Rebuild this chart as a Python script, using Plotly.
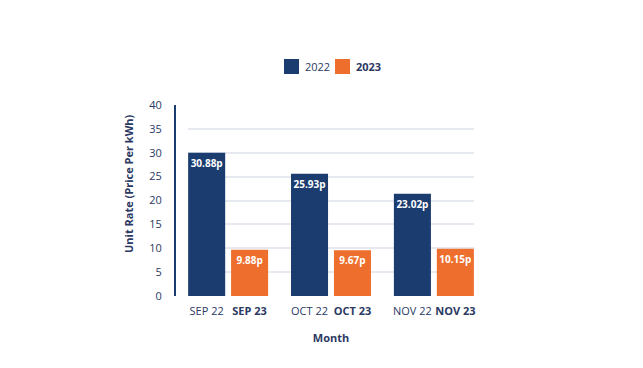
import plotly.graph_objects as go

# ---- data ----
months = ["SEP", "OCT", "NOV"]
years = ["2022", "2023"]
heights_2022 = [30.0, 25.6, 21.4]
heights_2023 = [9.7, 9.6, 9.9]
labels_2022 = ["30.88p", "25.93p", "23.02p"]
labels_2023 = ["9.88p", "9.67p", "10.15p"]
y_ticks = [0, 5, 10, 15, 20, 25, 30, 35, 40]

# ---- styling ----
NAVY = "#1b3c6e"
ORANGE = "#ee6f2d"
TEXT = "#2b3963"
GRID = "#e6eaf0"
FONT = "Open Sans"
OFF = 0.2087   # half slot within a month group
BAR_W = 0.36

W, H = 643, 368
ML, MR, MT, MB = 167, 177, 97, 80
PW, PH = W - ML - MR, H - MT - MB


def px_x(x):   # page pixel -> paper x
    return (x - 8 - ML) / PW


def px_y(y):   # page pixel -> paper y
    return 1 - (y - 7.5 - MT) / PH


idx = list(range(len(months)))
x22 = [i - OFF for i in idx]
x23 = [i + OFF for i in idx]
tickvals = []
ticktext = []
for i, m in enumerate(months):
    tickvals += [x22[i], x23[i]]
    ticktext += [f"{m} 22", f"<b>{m} 23</b>"]

fig = go.Figure()
for xs, ys, labs, col, nm in [(x22, heights_2022, labels_2022, NAVY, years[0]),
                              (x23, heights_2023, labels_2023, ORANGE, years[1])]:
    fig.add_trace(go.Bar(
        x=xs, y=ys, width=BAR_W, text=labs, name=nm,
        textposition="inside", insidetextanchor="end", textangle=0,
        constraintext="none",
        textfont=dict(family=FONT, size=10, color="white", weight="bold"),
        marker=dict(color=col, line=dict(width=0)),
        showlegend=False, hoverinfo="skip",
    ))

# legend (drawn as swatches + labels to match the reference spacing)
shapes = []
annotations = []
for (sx, tx, label, col) in [(284, 303.3, years[0], NAVY),
                             (335, 354.3, f"<b>{years[1]}</b>", ORANGE)]:
    shapes.append(dict(type="rect", xref="paper", yref="paper",
                       x0=px_x(sx), x1=px_x(sx + 15), y0=px_y(73.5), y1=px_y(58.5),
                       fillcolor=col, line=dict(width=0)))
    annotations.append(dict(text=label, xref="paper", yref="paper",
                            x=px_x(tx), y=px_y(66), xanchor="left", yanchor="middle",
                            showarrow=False, font=dict(family=FONT, size=11, color=TEXT)))

annotations.append(dict(text="<b>Unit Rate (Price Per kWh)</b>", textangle=-90,
                        xref="paper", yref="paper", x=px_x(128), y=px_y(183.5),
                        xanchor="center", yanchor="middle", showarrow=False,
                        font=dict(family=FONT, size=11, color=TEXT)))

fig.update_layout(
    width=W, height=H,
    margin=dict(l=ML, r=MR, t=MT, b=MB),
    paper_bgcolor="white", plot_bgcolor="white",
    barmode="overlay", showlegend=False,
    font=dict(family=FONT, size=11, color=TEXT),
    xaxis=dict(domain=[0.0435, 1], range=[-0.39, 2.39],
               tickvals=tickvals, ticktext=ticktext,
               showgrid=False, showline=False, zeroline=False, ticks="",
               ticklabelstandoff=7,
               tickfont=dict(family=FONT, size=11, color=TEXT),
               title=dict(text="<b>Month</b>", standoff=17,
                          font=dict(family=FONT, size=11, color=TEXT))),
    yaxis=dict(anchor="free", position=0, range=[0, 40],
               tickvals=y_ticks, showgrid=True, gridcolor=GRID, gridwidth=1.5,
               zeroline=False, showline=True, linecolor=NAVY, linewidth=2,
               ticks="", ticklabelstandoff=10,
               tickfont=dict(family=FONT, size=11, color=TEXT)),
    shapes=shapes,
    annotations=annotations,
)

fig.write_html("out.html")
